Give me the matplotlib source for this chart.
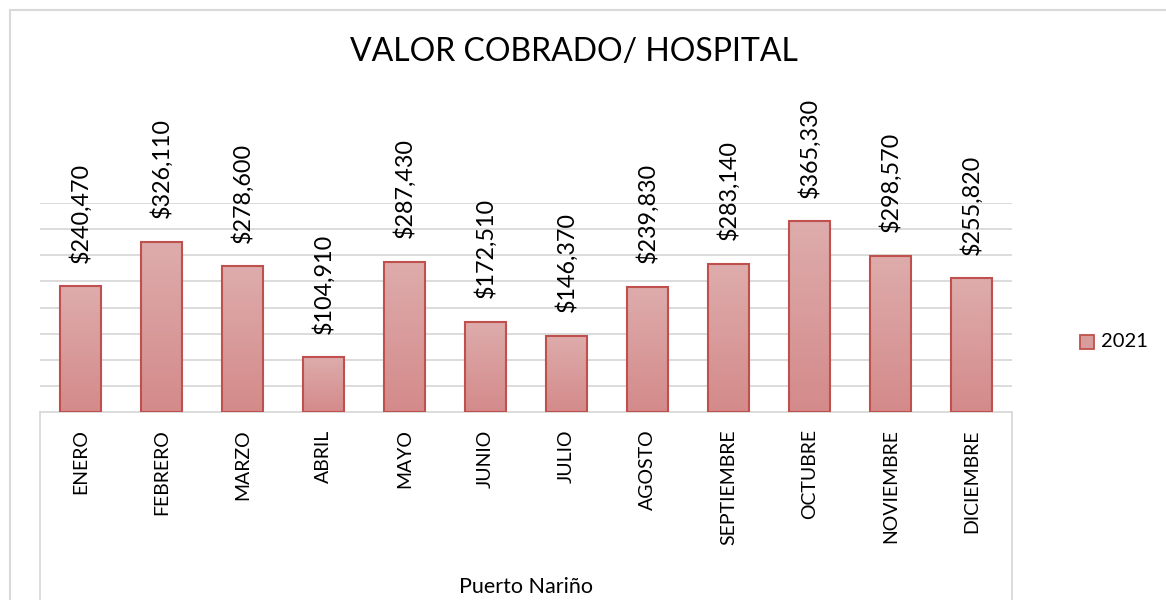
import matplotlib
matplotlib.use("Agg")
import matplotlib.pyplot as plt
import numpy as np
from matplotlib.lines import Line2D
from matplotlib.patches import Rectangle

months = ["ENERO", "FEBRERO", "MARZO", "ABRIL", "MAYO", "JUNIO", "JULIO",
          "AGOSTO", "SEPTIEMBRE", "OCTUBRE", "NOVIEMBRE", "DICIEMBRE"]
values_2021 = [240470, 326110, 278600, 104910, 287430, 172510, 146370,
               239830, 283140, 365330, 298570, 255820]
series_name = "2021"
group_label = "Puerto Nariño"
title = "VALOR COBRADO/ HOSPITAL"

plt.rcParams['font.family'] = ['Lato', 'DejaVu Sans']

W, H = 1166, 600
fig = plt.figure(figsize=(W / 100, H / 100), dpi=100)

# axes placement in pixels
left_px, right_px, base_px, top_px = 40, 1012, 412, 203
ax = fig.add_axes([left_px / W, 1 - base_px / H, (right_px - left_px) / W, (base_px - top_px) / H])

edge = "#c0504d"
top_col = np.array([222, 172, 172]) / 255
bot_col = np.array([212, 138, 138]) / 255

x = np.arange(len(months))
bars = ax.bar(x, values_2021, width=0.5, facecolor="none", edgecolor=edge, linewidth=1.5, zorder=3)

grad = np.linspace(0, 1, 256)[:, None]
cmap_img = (top_col[None, None, :] * (1 - grad[:, :, None]) + bot_col[None, None, :] * grad[:, :, None])
for b in bars:
    x0, y0 = b.get_x(), b.get_y()
    w, h = b.get_width(), b.get_height()
    im = ax.imshow(cmap_img, extent=[x0, x0 + w, y0, y0 + h], origin="upper",
                   aspect="auto", zorder=2, interpolation="bilinear")
    clip = Rectangle((x0, y0), w, h, transform=ax.transData)
    im.set_clip_path(clip)

for xi, v in zip(x, values_2021):
    ax.annotate(f"${v:,}", (xi, v), xytext=(0, 17), textcoords="offset points",
                rotation=90, ha="center", va="bottom", fontsize=16.8, color="black")

ax.set_xlim(-0.5, len(months) - 0.5)
ax.set_ylim(0, 400000)
ax.set_yticks(np.arange(50000, 400001, 50000))
ax.yaxis.grid(True, color="#d9d9d9", linewidth=1.3, zorder=0)
ax.set_axisbelow(True)
ax.tick_params(axis="y", left=False, labelleft=False)
ax.set_xticks(x)
ax.set_xticklabels(months, rotation=90, fontsize=14, va="top", ha="center")
ax.tick_params(axis="x", bottom=False, pad=9)
for s in ["top", "right", "left"]:
    ax.spines[s].set_visible(False)
ax.spines["bottom"].set_color("#d9d9d9")
ax.spines["bottom"].set_linewidth(1.3)

# category axis box lines
h_ax = base_px - top_px
ybot = -(H - base_px + 5) / h_ax
for xa in (0, 1):
    ax.add_line(Line2D([xa, xa], [0, ybot], transform=ax.transAxes, color="#d9d9d9",
                       linewidth=1.3, clip_on=False))

ax.text(0.5, -(587 - base_px) / h_ax, group_label, transform=ax.transAxes,
        ha="center", va="center", fontsize=15.5)

# chart border
fig.add_artist(Line2D([9.5 / W, 9.5 / W], [0, 1 - 10 / H], color="#d9d9d9", linewidth=1.5))
fig.add_artist(Line2D([9.5 / W, 1], [1 - 10 / H, 1 - 10 / H], color="#d9d9d9", linewidth=1.5))

fig.text(574 / W, 1 - 52 / H, title, ha="center", va="center", fontsize=23)

# legend
fig.patches.append(Rectangle((1080 / W, 1 - 349 / H), 14 / W, 14 / H, transform=fig.transFigure,
                             facecolor="#d99c9c", edgecolor=edge, linewidth=1.3))
fig.text(1101 / W, 1 - 342 / H, series_name, ha="left", va="center", fontsize=14.5)

fig.savefig("out.png", dpi=100)
